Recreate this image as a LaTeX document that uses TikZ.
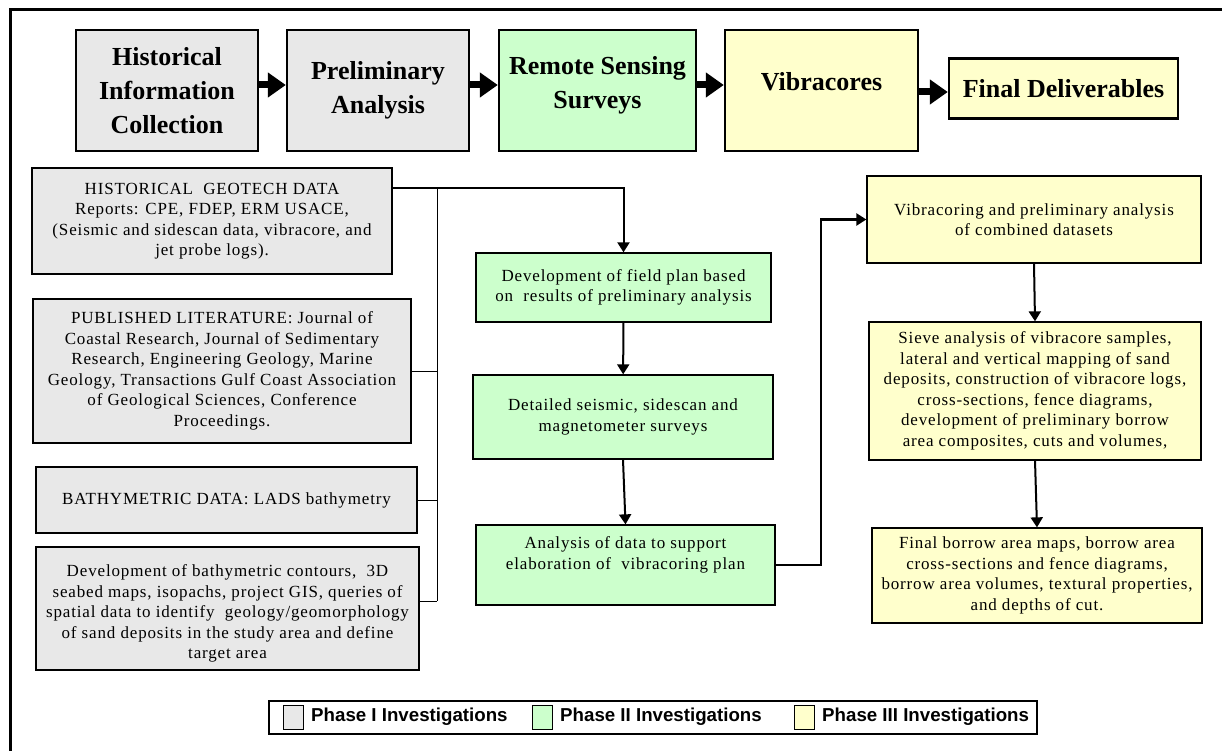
\documentclass[tikz,border=0pt]{standalone}
\usepackage{fontspec}
\setmainfont{Liberation Serif}
\setsansfont{Liberation Sans}
\newfontfamily\bodyfont{Liberation Serif}[LetterSpace=5]
\usetikzlibrary{arrows.meta}
\definecolor{phaseone}{HTML}{E8E8E8}
\definecolor{phasetwo}{HTML}{CCFFCC}
\definecolor{phasethree}{HTML}{FFFFCC}
\tikzset{>={Triangle[length=10pt,width=12pt]}}
\tikzset{
  head/.style={draw,line width=2.4pt,inner sep=0pt,align=center,
    font=\fontsize{26}{34}\selectfont\bfseries},
  box/.style={draw,line width=1.3pt,inner sep=0pt,align=center,
    font=\bodyfont\fontsize{17}{20.5}\selectfont},
  legtext/.style={anchor=west,inner sep=0pt,
    font=\sffamily\bfseries\fontsize{18.7}{20}\selectfont},
  swatch/.style={draw,line width=1pt,minimum width=20pt,minimum height=24pt,inner sep=0pt},
  fat/.style={line width=7pt,-{Triangle[length=18pt,width=24pt]}}
}

\begin{document}
\begin{tikzpicture}[x=1pt,y=-1pt]
\useasboundingbox (0,0) rectangle (1222,751);
% frame
\draw[line width=3pt] (10,751) -- (10,10) -- (1222,10);

% top row
\node[head,fill=phaseone,minimum width=182pt,minimum height=121pt] (H1) at (167,90.5) {Historical\\Information\\Collection};
\node[head,fill=phaseone,minimum width=182pt,minimum height=121pt] (H2) at (378,90.5) {Preliminary\\Analysis};
\node[head,fill=phasetwo,minimum width=197pt,minimum height=121pt,text depth=16pt] (H3) at (597.5,90.5) {Remote Sensing\\Surveys};
\node[head,fill=phasethree,minimum width=193pt,minimum height=121pt,text depth=19pt] (H4) at (821.5,90.5) {Vibracores};
\node[head,fill=phasethree,minimum width=229pt,minimum height=60pt] (H5) at (1063.5,88.5) {Final Deliverables};

\path [fat] ([yshift=5.5pt]H1.east) edge ([yshift=5.5pt]H2.west);
\path [fat] ([yshift=5.5pt]H2.east) edge ([yshift=5.5pt]H3.west);
\path [fat] ([yshift=5.5pt]H3.east) edge ([yshift=5.5pt]H4.west);
\path [fat] ([yshift=-1.5pt]H4.east) edge ([yshift=-1.5pt]H4.east -| H5.west);

% phase I
\begin{scope}[every node/.style={box,fill=phaseone}]
\node[minimum width=360pt,minimum height=106pt] (P1) at (212,221) {HISTORICAL\ \ GEOTECH DATA\\Reports: CPE, FDEP, ERM USACE,\\(Seismic and sidescan data, vibracore, and\\jet probe logs).};
\node[minimum width=378pt,minimum height=144pt] (P2) at (222,371) {PUBLISHED LITERATURE: Journal of\\Coastal Research, Journal of Sedimentary\\Research, Engineering Geology, Marine\\Geology, Transactions Gulf Coast Association\\of Geological Sciences, Conference\\Proceedings.};
\node[minimum width=381pt,minimum height=66pt] (P3) at (226.5,500) {BATHYMETRIC DATA: LADS bathymetry};
\node[minimum width=383pt,minimum height=123pt,text height=104.5pt] (P4) at (227.5,608.5) {Development of bathymetric contours,\ \ 3D\\seabed maps, isopachs, project GIS, queries of\\spatial data to identify\ \ geology/geomorphology\\of sand deposits in the study area and define\\target area};
\end{scope}

% phase II
\begin{scope}[every node/.style={box,fill=phasetwo}]
\node[minimum width=295pt,minimum height=69pt] (F1) at (623.5,287.5) {Development of field plan based\\on\ \ results of preliminary analysis};
\node[minimum width=300pt,minimum height=84pt] (F2) at (623,417) {Detailed seismic, sidescan and\\magnetometer surveys};
\node[minimum width=299pt,minimum height=80pt,text depth=24pt] (F3) at (625.5,565) {Analysis of data to support\\elaboration of\ \ vibracoring plan};
\end{scope}

% phase III
\begin{scope}[every node/.style={box,fill=phasethree}]
\node[minimum width=334pt,minimum height=87pt] (V1) at (1034,219.5) {Vibracoring and preliminary analysis\\of combined datasets};
\node[minimum width=332pt,minimum height=138pt] (V2) at (1035,391) {Sieve analysis of vibracore samples,\\lateral and vertical mapping of sand\\deposits, construction of vibracore logs,\\cross-sections, fence diagrams,\\development of preliminary borrow\\area composites, cuts and volumes,};
\node[minimum width=330pt,minimum height=95pt] (V3) at (1037,575.5) {Final borrow area maps, borrow area\\cross-sections and fence diagrams,\\borrow area volumes, textural properties,\\and depths of cut.};
\end{scope}

% connectors
\coordinate (B1) at (437,188);
\coordinate (B2) at (437,601);
\coordinate (J1) at (821,565);
\draw[line width=1pt] (B1) -- (B2);
\draw[line width=1pt] (P2.east) -- (P2.east -| B1);
\draw[line width=1pt] (P3.east) -- (P3.east -| B1);
\draw[line width=1pt] (B2 -| P4.east) -- (B2);
\draw[line width=2pt,->] (B1 -| P1.east) -| (F1.north);

\path [line width=2pt,->] (F1) edge (F2);
\path [line width=2pt,->] (F2.south) edge (F3.north);
\draw[line width=2.4pt,->] (F3.east) -- (J1) |- (V1.west);
\path [line width=2pt,->] (V1.south) edge (V2.north);
\path [line width=2pt,->] (V2.south) edge (V3.north);

% legend
\node[draw,line width=1.2pt,minimum width=768pt,minimum height=33pt,inner sep=0pt] (LG) at (653,717.5) {};
\node[swatch,fill=phaseone] (S1) at (293,717) {};
\node[swatch,fill=phasetwo] (S2) at (542,717) {};
\node[swatch,fill=phasethree] (S3) at (804,717) {};
\node[legtext] (T1) at (311,717) {Phase I Investigations};
\node[legtext] (T2) at (560,717) {Phase II Investigations};
\node[legtext] (T3) at (822,717) {Phase III Investigations};
\end{tikzpicture}
\end{document}
